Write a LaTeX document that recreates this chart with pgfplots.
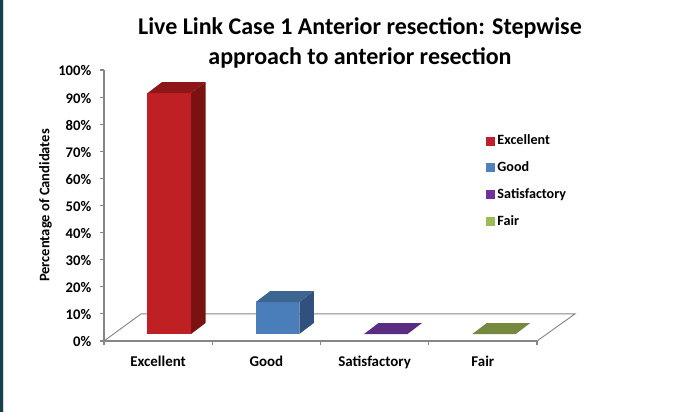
\documentclass[border=0pt]{standalone}
\usepackage{fontspec}
\setmainfont{Carlito}
\usepackage{pgfplots}
\pgfplotsset{compat=1.18}

\definecolor{axisgray}{HTML}{868686}
\definecolor{stripe}{HTML}{17404F}
\definecolor{redfront}{HTML}{BE2024}
\definecolor{redside}{HTML}{7A1210}
\definecolor{redtop}{HTML}{8F1618}
\definecolor{bluefront}{HTML}{4A7EBB}
\definecolor{blueside}{HTML}{30517D}
\definecolor{bluetop}{HTML}{3C6592}
\definecolor{purpletop}{HTML}{5A2D82}
\definecolor{greentop}{HTML}{76893F}
\definecolor{legred}{HTML}{C0202A}
\definecolor{legblue}{HTML}{4F81BD}
\definecolor{legpurple}{HTML}{7030A0}
\definecolor{leggreen}{HTML}{9BBB59}

% 1 px of the reference = 0.75pt
\pgfplotsset{
  chartbox/.style={
    at={(78pt,53.25pt)}, anchor=south west,
    scale only axis, width=324.75pt, height=203.25pt,
    xmin=-0.5, xmax=3.5,
  },
}

\begin{document}
\begin{tikzpicture}
\path (0,0) rectangle (506.25pt,309pt);
\fill[black!15] (2.2pt,0) rectangle (3.2pt,309pt);
\fill[stripe] (0,0) rectangle (2.4pt,309pt);

\begin{axis}[
  chartbox,
  ymin=0, ymax=100,
  clip=false,
  axis x line*=bottom, axis y line*=left,
  axis line style={axisgray, line width=0.8pt, -},
  xtick={0,1,2,3},
  xticklabels={Excellent,Good,Satisfactory,Fair},
  minor xtick={-0.5,0.5,1.5,2.5,3.5},
  ytick={0,10,...,100},
  yticklabel={\pgfmathprintnumber{\tick}\%},
  /pgf/number format/assume math mode=true,
  tick style={axisgray, line width=0.8pt},
  major x tick style={draw=none},
  major tick length=3pt,
  minor tick length=3pt,
  tick align=outside,
  xticklabel style={yshift=-4.5pt, font=\fontsize{11.2}{13}\selectfont\bfseries},
  yticklabel style={xshift=-3pt, yshift=-0.7pt, font=\fontsize{11}{13}\selectfont\bfseries},
  ylabel={Percentage of Candidates},
  ylabel style={font=\fontsize{10.9}{13}\selectfont\bfseries},
  ylabel shift=-2pt,
]
\addplot[axisgray, line width=0.7pt] coordinates {(-0.5,0) (-0.158,10) (3.851,10) (3.5,0)};
\end{axis}

\begin{axis}[
  chartbox,
  ymin=-2.58, ymax=97.42,
  hide axis,
  clip=false,
  legend cell align=left,
  legend image code/.code={\fill[#1] (0pt,-3pt) rectangle (6pt,3pt);},
  legend style={
    at={(rel axis cs:0.873,0.7815)}, anchor=north west,
    draw=none, fill=none,
    font=\fontsize{10.6}{12}\selectfont\bfseries,
    row sep=7.2pt,
    /tikz/every even column/.style={column sep=-2pt},
  },
]
% front faces
\addplot[ybar, bar width=32.6pt, bar shift=8.25pt, fill=redfront, draw=none, forget plot]
  coordinates {(0,88.9)};
\addplot[ybar, bar width=32.6pt, bar shift=8.25pt, fill=bluefront, draw=none, forget plot]
  coordinates {(1,11.8)};
% side faces
\addplot[fill=redside, draw=none, forget plot] coordinates
  {(0.304,0) (0.438,4.06) (0.438,92.96) (0.304,88.9)} -- cycle;
\addplot[fill=blueside, draw=none, forget plot] coordinates
  {(1.304,0) (1.438,4.06) (1.438,15.86) (1.304,11.8)} -- cycle;
% top faces
\addplot[fill=redtop, draw=none, forget plot] coordinates
  {(-0.098,88.9) (0.304,88.9) (0.438,92.96) (0.036,92.96)} -- cycle;
\addplot[fill=bluetop, draw=none, forget plot] coordinates
  {(0.902,11.8) (1.304,11.8) (1.438,15.86) (1.036,15.86)} -- cycle;
\addplot[fill=purpletop, draw=none, forget plot] coordinates
  {(1.902,0) (2.304,0) (2.438,4.06) (2.036,4.06)} -- cycle;
\addplot[fill=greentop, draw=none, forget plot] coordinates
  {(2.902,0) (3.304,0) (3.438,4.06) (3.036,4.06)} -- cycle;

\addlegendimage{legred}\addlegendentry{Excellent}
\addlegendimage{legblue}\addlegendentry{Good}
\addlegendimage{legpurple}\addlegendentry{Satisfactory}
\addlegendimage{leggreen}\addlegendentry{Fair}
\end{axis}

\node[align=center, font=\fontsize{18}{22.5}\selectfont\bfseries, anchor=center]
  at (270pt,277pt) {Live Link Case 1 Anterior resection: Stepwise\\approach to anterior resection};
\end{tikzpicture}
\end{document}
